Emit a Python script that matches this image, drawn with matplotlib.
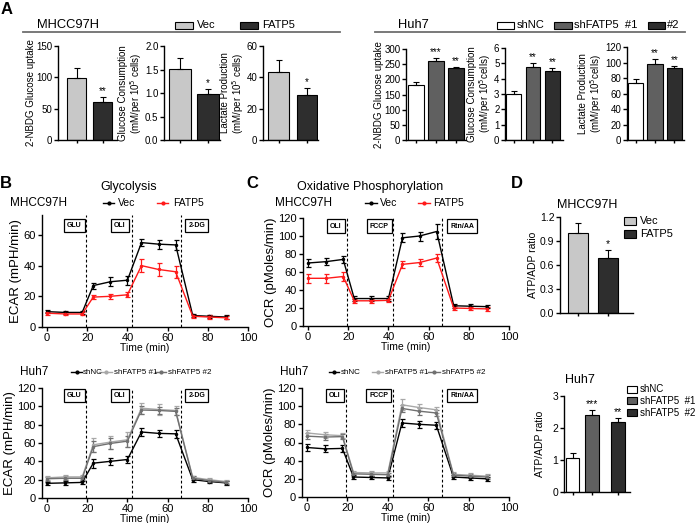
import numpy as np
import matplotlib
matplotlib.use('Agg')
import matplotlib.pyplot as plt
from matplotlib.patches import Rectangle
from matplotlib.lines import Line2D

plt.rcParams['font.family'] = ['Liberation Sans', 'DejaVu Sans']
plt.rcParams['axes.linewidth'] = 1.0
plt.rcParams['xtick.major.width'] = 1.0
plt.rcParams['ytick.major.width'] = 1.0

# ---- panel A: MHCC97H ----
mh_groups = ['Vec', 'FATP5']
mh_uptake = [99, 61]
mh_uptake_err = [16, 8]
mh_uptake_sig = ['', '**']
mh_consump = [1.52, 0.97]
mh_consump_err = [0.23, 0.11]
mh_consump_sig = ['', '*']
mh_lactate = [43.5, 28.5]
mh_lactate_err = [7.5, 4.5]
mh_lactate_sig = ['', '*']

# ---- panel A: Huh7 ----
huh_groups = ['shNC', 'shFATP5 #1', 'shFATP5 #2']
huh_uptake = [182, 260, 237]
huh_uptake_err = [10, 10, 4]
huh_uptake_sig = ['', '***', '**']
huh_consump = [3.0, 4.75, 4.5]
huh_consump_err = [0.22, 0.28, 0.22]
huh_consump_sig = ['', '**', '**']
huh_lactate = [74, 98.5, 93.5]
huh_lactate_err = [4.5, 6, 2.5]
huh_lactate_sig = ['', '**', '**']

# ---- panels B/C: seahorse time course ----
times = [0, 9, 17.5, 23, 31.5, 40, 47, 55.5, 64, 72.5, 80.5, 89]
inject_times = [19.5, 42.5, 66.8]
glyco_labels = ['GLU', 'OLI', '2-DG']
mito_labels = ['OLI', 'FCCP', 'Rtn/AA']

mh_ecar_vec = [10, 9.5, 9.5, 27, 29.5, 30.5, 55, 54, 53.5, 7.5, 7, 6.5]
mh_ecar_vec_err = [1, 1, 1, 2, 3, 3, 2.5, 3, 3, 1, 1, 1]
mh_ecar_fatp5 = [9, 8.5, 8.5, 19.5, 20, 21, 40, 37.5, 36, 7, 6.5, 6]
mh_ecar_fatp5_err = [1, 1, 1, 1.5, 1.5, 1.5, 4, 4.5, 4, 1, 1, 1]

huh_ecar_nc = [16, 16.5, 17, 38, 40, 42, 72, 70.5, 70, 20, 18, 16.5]
huh_ecar_nc_err = [2, 2, 2, 5, 4, 4, 4, 4, 4, 2, 2, 2]
huh_ecar_sh1 = [22, 23, 23, 58, 61, 63.5, 98, 96.5, 95.5, 22.5, 20, 18]
huh_ecar_sh1_err = [2, 2, 2, 8, 7, 8, 6, 6, 5, 2, 2, 2]
huh_ecar_sh2 = [21, 21.5, 21.5, 56, 59.5, 62, 96, 95.5, 94.5, 21.5, 19, 17]
huh_ecar_sh2_err = [2, 2, 2, 6, 6, 6, 4, 4, 4, 2, 2, 2]

mh_ocr_vec = [70, 71.5, 74, 30.5, 30.5, 30.5, 98, 100, 105, 22.5, 22, 21.5]
mh_ocr_vec_err = [4, 4, 4, 3, 3, 3, 5, 5, 8, 2, 2, 2]
mh_ocr_fatp5 = [53, 53, 55, 28, 28, 28.5, 68.5, 70.5, 75.5, 20, 19.5, 19]
mh_ocr_fatp5_err = [5, 5, 5, 2, 2, 2, 4, 4, 4, 2, 2, 2]

huh_ocr_nc = [54.5, 53, 53.5, 22, 21.5, 21, 81.5, 80, 79, 22, 21, 20]
huh_ocr_nc_err = [4, 4, 4, 2, 2, 2, 4, 4, 4, 2, 2, 2]
huh_ocr_sh1 = [70.5, 68.5, 67.5, 27, 26.5, 26.5, 101.5, 98.5, 96, 25, 24, 23]
huh_ocr_sh1_err = [3, 3, 3, 2, 2, 2, 6, 4, 3, 2, 2, 2]
huh_ocr_sh2 = [67, 66, 66.5, 25.5, 25, 24.5, 97.5, 94.5, 92.5, 24, 23, 22]
huh_ocr_sh2_err = [3, 3, 3, 2, 2, 2, 4, 4, 3, 2, 2, 2]

# ---- panel D: ATP/ADP ----
mh_atp = [1.0, 0.69]
mh_atp_err = [0.13, 0.1]
mh_atp_sig = ['', '*']
huh_atp = [1.05, 2.4, 2.2]
huh_atp_err = [0.17, 0.15, 0.12]
huh_atp_sig = ['', '***', '**']

W, H = 697, 523
fig = plt.figure(figsize=(W / 100, H / 100), dpi=100)

MH_BAR = ['#c8c8c8', '#2e2e2e']
HUH_BAR = ['#ffffff', '#606060', '#2e2e2e']
MH_LINE = ['black', '#ff1a1a']
HUH_LINE = ['black', '#a8a8a8', '#707070']


def px_axes(x0, y0, x1, y1):
  ax = fig.add_axes([x0 / W, 1 - y1 / H, (x1 - x0) / W, (y1 - y0) / H])
  ax.px_width = x1 - x0
  return ax

def ftext(x, y, s, **kw):
  kw.setdefault('va', 'center')
  return fig.text(x / W, 1 - y / H, s, **kw)

def fbox(x0, y0, x1, y1, color):
  fig.add_artist(Rectangle((x0 / W, 1 - y1 / H), (x1 - x0) / W, (y1 - y0) / H,
                           transform=fig.transFigure, fc=color, ec='black', lw=0.8))

def fline(x0, x1, y, color, lw=1.0, marker=True):
  fig.add_artist(Line2D([x0 / W, x1 / W], [1 - y / H] * 2, transform=fig.transFigure,
                        color=color, lw=lw))
  if marker:
    fig.add_artist(Line2D([(x0 + x1) / 2 / W], [1 - y / H], transform=fig.transFigure,
                          color=color, marker='o', ms=2))

def clean(ax, fs):
  ax.spines['top'].set_visible(False)
  ax.spines['right'].set_visible(False)
  ax.tick_params(labelsize=fs, length=3, pad=1.5)

def bar_panel(ax, vals, errs, sig, colors, xs, width, xlim, ylim, yticks, ylabel, label_off,
              fs=7, lfs=7, sfs=7):
  ax.bar(xs, vals, width, color=colors, edgecolor='black', linewidth=0.8)
  ax.errorbar(xs, vals, yerr=[np.zeros(len(vals)), errs], fmt='none', ecolor='black',
              capsize=2.5, elinewidth=0.8, capthick=0.8)
  for x, v, e, s in zip(xs, vals, errs, sig):
    if s:
      ax.text(x, v + e + ylim[1] * 0.01, s, ha='center', va='bottom', fontsize=sfs)
  ax.set_xlim(*xlim)
  ax.set_ylim(*ylim)
  ax.set_yticks(yticks)
  ax.set_xticks(xs)
  ax.set_xticklabels([])
  ax.set_ylabel(ylabel, fontsize=lfs, linespacing=1.0)
  # label_off: pixels from the y axis to the right edge of the label
  ax.yaxis.set_label_coords(-label_off / ax.px_width, 0.5)
  clean(ax, fs)
  ax.tick_params(axis='x', length=2.5)
  ax.tick_params(axis='y', pad=1)

def time_panel(ax, series, colors, ylim, yticks, ylabel, labels, box_y):
  for (vals, errs), c in zip(series, colors):
    ax.errorbar(times, vals, yerr=errs, color=c, lw=1.0, elinewidth=0.9,
                capsize=1.8, capthick=0.9, marker='o', ms=1.5)
  for t in inject_times:
    ax.axvline(t, color='black', ls=(0, (2.5, 2)), lw=0.8)
  box_x = [13.7, 36.3, 74.5] if labels[-1] != 'Rtn/AA' else [13.8, 35.5, 76.7]
  for bx, lab in zip(box_x, labels):
    ax.text(bx, box_y, lab, ha='center', va='center', fontsize=5, fontweight='bold',
            bbox=dict(boxstyle='square,pad=0.45', fc='white', ec='black', lw=0.9))
  ax.set_xlim(-2.5, 100)
  ax.set_xticks([0, 20, 40, 60, 80, 100])
  ax.set_ylim(*ylim)
  ax.set_yticks(yticks)
  ax.set_ylabel(ylabel, fontsize=9.5, labelpad=1)
  ax.set_xlabel('Time (min)', fontsize=7.5, labelpad=0)
  clean(ax, 8)


# ---------------- panel A ----------------
ftext(1, 9, 'A', fontsize=12, fontweight='bold')
ftext(37, 25, 'MHCC97H', fontsize=9.3)
fbox(175, 22, 193, 29, MH_BAR[0])
ftext(197, 25.5, 'Vec', fontsize=8)
fbox(240, 22, 258, 29, MH_BAR[1])
ftext(262, 25.5, 'FATP5', fontsize=8)
fline(23, 340, 32, '#6e6e6e', lw=1.3, marker=False)

xs2 = [0, 1]
a1 = px_axes(58, 46, 117, 140)
bar_panel(a1, mh_uptake, mh_uptake_err, mh_uptake_sig, MH_BAR, xs2, 0.72, (-0.72, 1.55),
          (0, 150), [0, 50, 100, 150], '2-NBDG Glucose uptake', 22)
a2 = px_axes(164, 46, 220, 140)
bar_panel(a2, mh_consump, mh_consump_err, mh_consump_sig, MH_BAR, xs2, 0.78, (-0.58, 1.42),
          (0, 2.0), [0, 0.5, 1.0, 1.5, 2.0], 'Glucose Consumption\n(mM/per 10$^5$ cells)', 20)
a3 = px_axes(263, 46, 318, 140)
bar_panel(a3, mh_lactate, mh_lactate_err, mh_lactate_sig, MH_BAR, xs2, 0.72, (-0.55, 1.4),
          (0, 60), [0, 20, 40, 60], 'Lactate Production\n(mM/per 10$^5$ cells)', 17)

ftext(398, 25, 'Huh7', fontsize=9.3)
fbox(497, 22, 514, 29, HUH_BAR[0])
ftext(517, 25.5, 'shNC', fontsize=8)
fbox(554, 22, 572, 29, HUH_BAR[1])
ftext(574, 25.5, 'shFATP5  #1', fontsize=8)
fbox(648, 22, 665, 29, HUH_BAR[2])
ftext(667, 25.5, '#2', fontsize=8)
fline(375, 685, 32, '#6e6e6e', lw=1.3, marker=False)

xs3 = [0, 1, 2]
b1 = px_axes(406, 49, 466, 140)
bar_panel(b1, huh_uptake, huh_uptake_err, huh_uptake_sig, HUH_BAR, xs3, 0.78, (-0.5, 2.5),
          (0, 300), [0, 50, 100, 150, 200, 250, 300], '2-NBDG Glucose uptake', 22)
b2 = px_axes(505, 48, 563, 140)
bar_panel(b2, huh_consump, huh_consump_err, huh_consump_sig, HUH_BAR, xs3, 0.75, (-0.45, 2.55),
          (0, 6), [0, 1, 2, 3, 4, 5, 6], 'Glucose Consumption\n(mM/per 10$^5$cells)', 12)
b3 = px_axes(627, 47, 684, 140)
bar_panel(b3, huh_lactate, huh_lactate_err, huh_lactate_sig, HUH_BAR, xs3, 0.78, (-0.45, 2.5),
          (0, 120), [0, 20, 40, 60, 80, 100, 120], 'Lactate Production\n(mM/per 10$^5$cells)', 23)

# ---------------- panel B ----------------
ftext(0, 183, 'B', fontsize=12, fontweight='bold')
ftext(129, 187, 'Glycolysis', fontsize=9, ha='center')
ftext(10, 203, 'MHCC97H', fontsize=8.5)
fline(103, 114, 203, MH_LINE[0])
ftext(118, 203.5, 'Vec', fontsize=7.5)
fline(157, 168, 203, MH_LINE[1])
ftext(173, 203.5, 'FATP5', fontsize=7.5)

c1 = px_axes(42, 215, 248, 327)
time_panel(c1, [(mh_ecar_vec, mh_ecar_vec_err), (mh_ecar_fatp5, mh_ecar_fatp5_err)],
           MH_LINE, (0, 73), [0, 20, 40, 60], 'ECAR (mPH/min)', glyco_labels, 66)

ftext(20, 372, 'Huh7', fontsize=8.5)
fline(71, 82, 372, HUH_LINE[0])
ftext(83, 372.5, 'shNC', fontsize=5.8)
fline(99, 112, 372, HUH_LINE[1])
ftext(114, 372.5, 'shFATP5 #1', fontsize=5.8)
fline(155, 166, 372, HUH_LINE[2])
ftext(168, 372.5, 'shFATP5 #2', fontsize=5.8)

c2 = px_axes(42, 388, 248, 498)
time_panel(c2, [(huh_ecar_nc, huh_ecar_nc_err), (huh_ecar_sh1, huh_ecar_sh1_err),
                (huh_ecar_sh2, huh_ecar_sh2_err)],
           HUH_LINE, (0, 120), [0, 20, 40, 60, 80, 100, 120], 'ECAR (mPH/min)', glyco_labels, 112)

# ---------------- panel C ----------------
ftext(246, 183, 'C', fontsize=12, fontweight='bold')
ftext(370, 187, 'Oxidative Phosphorylation', fontsize=9, ha='center')
ftext(275, 203, 'MHCC97H', fontsize=8.5)
fline(365, 377, 203, MH_LINE[0])
ftext(380, 203.5, 'Vec', fontsize=7.5)
fline(418, 430, 203, MH_LINE[1])
ftext(433, 203.5, 'FATP5', fontsize=7.5)

d1 = px_axes(303, 218, 509, 326)
time_panel(d1, [(mh_ocr_vec, mh_ocr_vec_err), (mh_ocr_fatp5, mh_ocr_fatp5_err)],
           MH_LINE, (0, 120), [0, 20, 40, 60, 80, 100, 120], 'OCR (pMoles/min)', mito_labels, 111)

ftext(280, 372, 'Huh7', fontsize=8.5)
fline(329, 339, 372, HUH_LINE[0])
ftext(341, 372.5, 'shNC', fontsize=5.8)
fline(372, 383, 372, HUH_LINE[1])
ftext(385, 372.5, 'shFATP5 #1', fontsize=5.8)
fline(428, 440, 372, HUH_LINE[2])
ftext(442, 372.5, 'shFATP5 #2', fontsize=5.8)

d2 = px_axes(302, 388, 509, 497)
time_panel(d2, [(huh_ocr_nc, huh_ocr_nc_err), (huh_ocr_sh1, huh_ocr_sh1_err),
                (huh_ocr_sh2, huh_ocr_sh2_err)],
           HUH_LINE, (0, 120), [0, 20, 40, 60, 80, 100, 120], 'OCR (pMoles/min)', mito_labels, 112)

# ---------------- panel D ----------------
ftext(511, 183, 'D', fontsize=12, fontweight='bold')
ftext(587, 205, 'MHCC97H', fontsize=9, ha='center')
e1 = px_axes(560, 217, 633, 313)
bar_panel(e1, mh_atp, mh_atp_err, mh_atp_sig, MH_BAR, xs2, 0.67, (-0.6, 1.83),
          (0, 1.2), [0, 0.3, 0.6, 0.9, 1.2], 'ATP/ADP ratio', 22, fs=7.5, lfs=7.5, sfs=7.5)
fbox(624, 217, 636, 225, MH_BAR[0])
ftext(640, 221, 'Vec', fontsize=8)
fbox(624, 230, 636, 238, MH_BAR[1])
ftext(640, 234, 'FATP5', fontsize=8)

ftext(580, 380, 'Huh7', fontsize=9, ha='center')
e2 = px_axes(564, 396, 630, 492)
bar_panel(e2, huh_atp, huh_atp_err, huh_atp_sig, HUH_BAR, [0, 1, 2.28], 0.7, (-0.43, 2.9),
          (0, 3), [0, 1, 2, 3], 'ATP/ADP ratio', 19, fs=7.5, lfs=7.5, sfs=7.5)
fbox(627, 386, 637, 393, HUH_BAR[0])
ftext(640, 389.5, 'shNC', fontsize=7)
fbox(627, 397, 637, 404, HUH_BAR[1])
ftext(640, 400.5, 'shFATP5  #1', fontsize=7)
fbox(627, 409, 637, 416, HUH_BAR[2])
ftext(640, 412.5, 'shFATP5  #2', fontsize=7)

fig.savefig('out.png', dpi=100)
